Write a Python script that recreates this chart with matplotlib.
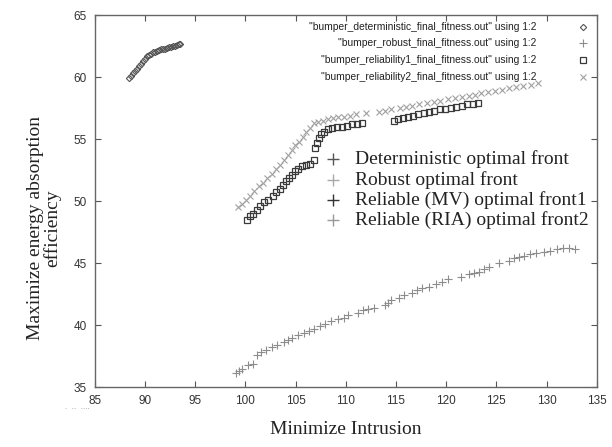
import numpy as np
import matplotlib
matplotlib.use('Agg')
import matplotlib.pyplot as plt

# deterministic front
det_x = [88.4, 88.6, 88.8, 89.0, 89.2, 89.4, 89.6, 89.8, 90.0, 90.2, 90.4, 90.6, 90.8, 91.0,
         91.2, 91.4, 91.6, 91.8, 92.0, 92.2, 92.4, 92.6, 92.8, 93.0, 93.2, 93.4, 93.5]
det_y = [59.9, 60.1, 60.3, 60.5, 60.7, 60.9, 61.1, 61.3, 61.5, 61.7, 61.8, 61.9, 62.0, 62.05,
         62.1, 62.2, 62.25, 62.3, 62.3, 62.35, 62.4, 62.45, 62.5, 62.55, 62.6, 62.65, 62.7]

# robust front
rob_x = [99.1, 99.4, 99.7, 100.3, 100.8, 101.2, 101.6, 102.1, 102.6, 103.1, 103.8, 104.2, 104.6,
         105.2, 105.8, 106.3, 106.8, 107.4, 107.9, 108.5, 109.2, 109.8, 110.2, 111.2, 111.7,
         112.2, 112.8, 113.9, 114.2, 114.5, 115.3, 115.8, 116.6, 117.1, 117.6, 118.3, 119.0,
         119.6, 120.2, 121.5, 122.3, 122.8, 123.3, 123.8, 124.3, 125.3, 126.3, 126.8, 127.3,
         127.8, 128.4, 129.0, 129.7, 130.3, 131.0, 131.6, 132.2, 132.8]
rob_y = [36.1, 36.3, 36.5, 36.8, 36.9, 37.6, 37.8, 38.0, 38.2, 38.4, 38.6, 38.8, 39.0,
         39.2, 39.4, 39.5, 39.7, 39.9, 40.1, 40.3, 40.5, 40.6, 40.8, 41.0, 41.2,
         41.3, 41.4, 41.6, 41.8, 42.0, 42.2, 42.4, 42.6, 42.8, 43.0, 43.1, 43.3,
         43.5, 43.7, 43.9, 44.1, 44.2, 44.3, 44.5, 44.7, 45.0, 45.2, 45.4, 45.5,
         45.6, 45.7, 45.8, 45.9, 46.0, 46.1, 46.2, 46.2, 46.1]

# reliability 1 (MV)
rel1_x = [100.2, 100.5, 100.8, 101.2, 101.5, 101.9, 102.3, 102.7, 103.0, 103.4, 103.7, 104.0,
          104.3, 104.6, 104.9, 105.2, 105.6, 106.0, 106.4, 106.8, 106.9, 107.1, 107.3, 107.5,
          107.8, 108.2, 108.6, 109.1, 109.6, 110.1, 110.6, 111.1, 111.6, 114.8, 115.2, 115.7,
          116.2, 116.7, 117.2, 117.8, 118.3, 118.8, 119.4, 119.9, 120.5, 121.0, 121.6, 122.1,
          122.7, 123.2]
rel1_y = [48.5, 48.8, 49.0, 49.3, 49.6, 49.9, 50.1, 50.4, 50.7, 51.0, 51.3, 51.6,
          51.9, 52.1, 52.4, 52.6, 52.8, 52.9, 53.0, 53.3, 54.3, 54.7, 55.1, 55.4,
          55.6, 55.8, 55.9, 56.0, 56.0, 56.1, 56.2, 56.2, 56.3, 56.5, 56.6, 56.7,
          56.8, 56.9, 57.0, 57.1, 57.2, 57.3, 57.4, 57.4, 57.5, 57.6, 57.7, 57.8,
          57.8, 57.9]

# reliability 2 (RIA)
rel2_x = [99.3, 99.7, 100.1, 100.5, 100.9, 101.4, 101.8, 102.2, 102.6, 103.0, 103.4, 103.8,
          104.2, 104.6, 104.9, 105.3, 105.7, 106.0, 106.4, 106.8, 107.2, 107.7, 108.2, 108.7,
          109.2, 109.8, 110.4, 111.0, 112.0, 113.3, 113.9, 114.5, 115.4, 116.0, 116.6, 117.3,
          118.1, 118.8, 119.4, 120.2, 120.9, 121.6, 122.3, 122.9, 123.5, 124.2, 124.9, 125.6,
          126.3, 127.0, 127.7, 128.5, 129.2]
rel2_y = [49.5, 49.8, 50.1, 50.4, 50.8, 51.2, 51.5, 51.9, 52.2, 52.6, 52.9, 53.3,
          53.7, 54.1, 54.5, 54.8, 55.2, 55.6, 55.9, 56.3, 56.4, 56.5, 56.6, 56.7,
          56.8, 56.8, 56.9, 57.0, 57.1, 57.2, 57.3, 57.4, 57.5, 57.6, 57.7, 57.8,
          57.9, 58.0, 58.1, 58.2, 58.3, 58.4, 58.5, 58.6, 58.7, 58.8, 58.9, 59.0,
          59.1, 59.2, 59.3, 59.4, 59.5]

file_labels = ['"bumper_deterministic_final_fitness.out" using 1:2',
               '"bumper_robust_final_fitness.out" using 1:2',
               '"bumper_reliability1_final_fitness.out" using 1:2',
               '"bumper_reliability2_final_fitness.out" using 1:2']
front_labels = ['Deterministic optimal front', 'Robust optimal front',
                'Reliable (MV) optimal front1', 'Reliable (RIA) optimal front2']

narrow = ['Liberation Sans Narrow', 'Liberation Sans', 'DejaVu Sans']
serif = ['Liberation Serif', 'DejaVu Serif']

fig = plt.figure(figsize=(6.12, 4.47), dpi=100)
ax = fig.add_axes([0.155, 0.134, 0.82, 0.832])

styles = [
    dict(marker='D', ms=3.2, mfc='none', mec='#555555', mew=0.8),
    dict(marker='+', ms=5.5, mec='#8c8c8c', mew=0.8),
    dict(marker='s', ms=4.6, mfc='none', mec='#3a3a3a', mew=0.9),
    dict(marker='x', ms=4.4, mec='#a0a0a0', mew=0.8),
]
series = [(det_x, det_y), (rob_x, rob_y), (rel1_x, rel1_y), (rel2_x, rel2_y)]
for (xs, ys), st in zip(series, styles):
    ax.plot(xs, ys, ls='none', **st)

ax.set_xlim(85, 135)
ax.set_ylim(35, 65)
ax.set_xticks(np.arange(85, 136, 5))
ax.set_yticks(np.arange(35, 66, 5))
ax.tick_params(direction='in', length=4, width=0.8, color='#555555',
               top=True, right=True, labelsize=8.5, labelcolor='#333333', pad=6)
for lab in ax.get_xticklabels() + ax.get_yticklabels():
    lab.set_family(narrow)
for sp in ax.spines.values():
    sp.set_color('#666666')
    sp.set_linewidth(1.0)

# gnuplot-style key
key_y = [0.968, 0.925, 0.879, 0.833]
for lab, yy, st in zip(file_labels, key_y, styles):
    ax.text(0.880, yy, lab, transform=ax.transAxes, ha='right', va='center',
            fontsize=7.4, family=narrow, color='#222222')
    ax.plot([0.972], [yy], transform=ax.transAxes, clip_on=False, ls='none', **st)

# overlaid front labels
front_y = [0.612, 0.558, 0.504, 0.450]
plus_cols = ['#555555', '#aaaaaa', '#333333', '#999999']
for lab, yy, c in zip(front_labels, front_y, plus_cols):
    ax.plot([0.474], [yy], transform=ax.transAxes, marker='+', ms=8, mew=1.0,
            mec=c, ls='none')
    ax.text(0.518, yy, lab, transform=ax.transAxes, ha='left', va='center',
            fontsize=14, family=serif, color='#222222')

fig.text(0.5653, 1 - 430 / 447, 'Minimize Intrusion', ha='center', va='center',
         fontsize=14, family=serif, color='#222222')
fig.text(44 / 612, 1 - 228 / 447, 'Maximize energy absorption\nefficiency', rotation=90,
         ha='center', va='center', multialignment='center', fontsize=14,
         family=serif, color='#222222', linespacing=1.0)
fig.text(65 / 612, 1 - 407 / 447, '.  ..  ....', ha='left', va='center',
         fontsize=5, color='#999999')

fig.savefig('out.png', dpi=100)
